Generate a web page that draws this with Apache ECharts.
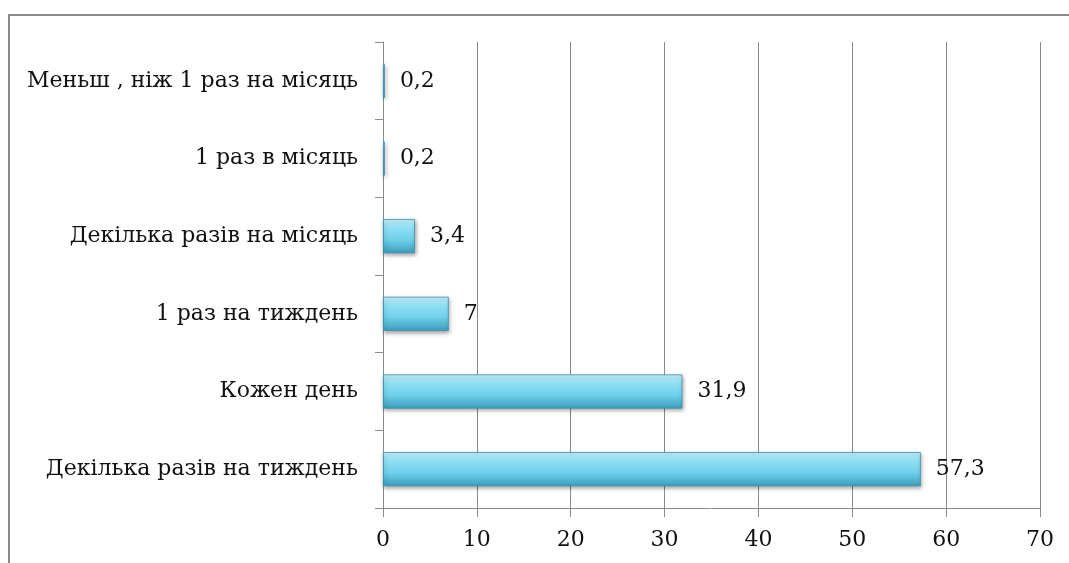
<!DOCTYPE html>
<html>
<head>
<meta charset="utf-8">
<script src="https://cdn.jsdelivr.net/npm/echarts@6/dist/echarts.min.js"></script>
<style>
  html, body { margin: 0; padding: 0; background: #fff; }
  #frame { position: absolute; left: 8px; top: 14px; width: 1070px; height: 560px;
           border-left: 2px solid #8a8a8a; border-top: 2px solid #8a8a8a; }
  #chart { position: absolute; left: 0; top: 0; width: 1069px; height: 563px; }
</style>
</head>
<body>
<div id="frame"></div>
<div id="chart"></div>
<script>
// Frequency categories, listed bottom to top
const categories = [
  'Декілька разів на тиждень',
  'Кожен день',
  '1 раз на тиждень',
  'Декілька разів на місяць',
  '1 раз в місяць',
  'Меньш , ніж 1 раз на місяць'
];
// Share of respondents, %
const values = [57.3, 31.9, 7, 3.4, 0.2, 0.2];
const xTicks = { min: 0, max: 70, interval: 10 };

const FONT = 'DejaVu Serif';
const TEXT = '#111';
const chart = echarts.init(document.getElementById('chart'));

chart.setOption({
  animation: false,
  grid: { left: 383, right: 29, top: 42, bottom: 55, containLabel: false },
  xAxis: {
    type: 'value',
    min: xTicks.min, max: xTicks.max, interval: xTicks.interval,
    axisLine: { show: true, lineStyle: { color: '#8a8a8a', width: 1 } },
    axisTick: { show: true, length: 9, lineStyle: { color: '#8a8a8a' } },
    splitLine: { show: true, lineStyle: { color: '#8a8a8a', width: 1 } },
    axisLabel: { color: TEXT, fontFamily: FONT, fontSize: 22, margin: 21 }
  },
  yAxis: {
    type: 'category',
    data: categories,
    axisLine: { show: true, lineStyle: { color: '#8a8a8a', width: 1 } },
    axisTick: { show: true, length: 8, lineStyle: { color: '#8a8a8a' } },
    axisLabel: { color: TEXT, fontFamily: FONT, fontSize: 22, margin: 25 }
  },
  series: [{
    type: 'bar',
    data: values,
    barWidth: '44%',
    itemStyle: {
      color: new echarts.graphic.LinearGradient(0, 0, 0, 1, [
        { offset: 0, color: '#c6f1fb' },
        { offset: 0.25, color: '#8fe0f4' },
        { offset: 0.6, color: '#6fd0ea' },
        { offset: 1, color: '#3a9dbd' }
      ]),
      borderColor: '#3f8fac',
      borderWidth: 0.8,
      shadowColor: 'rgba(0,0,0,0.35)',
      shadowBlur: 4,
      shadowOffsetX: 1,
      shadowOffsetY: 2
    },
    label: {
      show: true,
      position: 'right',
      distance: 15,
      color: TEXT,
      fontFamily: FONT,
      fontSize: 22,
      formatter: p => String(p.value).replace('.', ',')
    }
  }]
});
</script>
</body>
</html>
